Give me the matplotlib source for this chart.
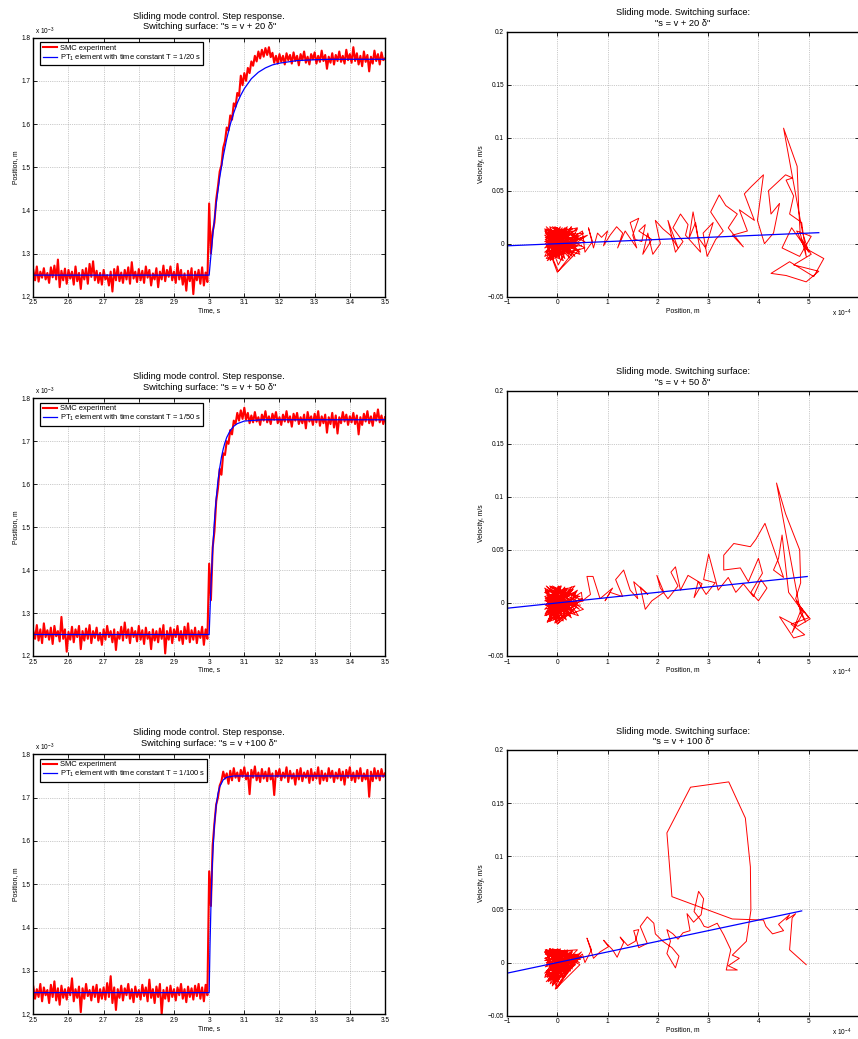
import numpy as np
import matplotlib
matplotlib.use("Agg")
import matplotlib.pyplot as plt
from matplotlib.ticker import FuncFormatter

plt.rcParams['font.family'] = ['Liberation Sans', 'DejaVu Sans']
plt.rcParams['mathtext.fontset'] = 'custom'
plt.rcParams['mathtext.rm'] = 'Liberation Sans'
plt.rcParams['mathtext.it'] = 'Liberation Sans:italic'
plt.rcParams['mathtext.default'] = 'regular'

# ---------------------------------------------------------------- step data
# measured position in micrometres, sampled every 5 ms from 2.5 s to 3.5 s
time_s = np.linspace(2.5, 3.5, 201)

smc_20_um = [
    1262, 1238, 1270, 1235, 1258, 1244, 1266, 1240, 1255, 1232,
    1268, 1245, 1272, 1240, 1286, 1222, 1260, 1238, 1265, 1230,
    1262, 1242, 1258, 1228, 1270, 1236, 1255, 1218, 1262, 1240,
    1266, 1230, 1276, 1246, 1282, 1238, 1260, 1232, 1255, 1228,
    1262, 1240, 1250, 1226, 1258, 1212, 1264, 1238, 1270, 1236,
    1256, 1232, 1262, 1240, 1268, 1230, 1280, 1242, 1258, 1234,
    1264, 1238, 1260, 1232, 1270, 1244, 1262, 1226, 1254, 1240,
    1266, 1222, 1258, 1240, 1272, 1236, 1262, 1246, 1270, 1238,
    1258, 1232, 1276, 1240, 1262, 1228, 1254, 1214, 1260, 1236,
    1266, 1206, 1258, 1238, 1262, 1230, 1268, 1226, 1256, 1234,
    1416, 1300, 1350, 1372, 1425, 1455, 1490, 1505, 1545, 1560,
    1592, 1585, 1620, 1610, 1648, 1640, 1672, 1665, 1712, 1690,
    1718, 1700, 1730, 1718, 1745, 1735, 1758, 1745, 1768, 1752,
    1772, 1756, 1776, 1760, 1778, 1755, 1765, 1742, 1758, 1740,
    1762, 1744, 1758, 1738, 1764, 1748, 1760, 1740, 1766, 1746,
    1758, 1736, 1762, 1748, 1768, 1742, 1756, 1738, 1762, 1750,
    1766, 1740, 1758, 1744, 1770, 1746, 1760, 1728, 1756, 1742,
    1764, 1738, 1760, 1746, 1768, 1744, 1758, 1740, 1772, 1748,
    1762, 1742, 1778, 1746, 1764, 1738, 1758, 1734, 1768, 1744,
    1760, 1722, 1756, 1740, 1770, 1746, 1762, 1738, 1766, 1748,
    1752,
]

smc_50_um = [
    1258, 1240, 1272, 1236, 1262, 1230, 1276, 1244, 1260, 1238,
    1266, 1228, 1270, 1246, 1258, 1234, 1291, 1240, 1262, 1210,
    1256, 1238, 1268, 1232, 1262, 1244, 1270, 1216, 1258, 1236,
    1264, 1240, 1272, 1230, 1258, 1242, 1266, 1236, 1254, 1226,
    1262, 1238, 1270, 1244, 1258, 1232, 1262, 1214, 1256, 1240,
    1268, 1236, 1278, 1242, 1262, 1230, 1266, 1244, 1258, 1234,
    1270, 1238, 1260, 1228, 1266, 1240, 1256, 1216, 1262, 1236,
    1258, 1232, 1264, 1240, 1272, 1206, 1258, 1238, 1266, 1230,
    1262, 1244, 1270, 1236, 1258, 1228, 1268, 1240, 1276, 1232,
    1260, 1238, 1266, 1230, 1258, 1242, 1268, 1226, 1262, 1240,
    1415, 1330, 1452, 1490, 1560, 1590, 1636, 1622, 1672, 1668,
    1700, 1694, 1726, 1716, 1748, 1740, 1766, 1748, 1772, 1752,
    1778, 1750, 1766, 1742, 1760, 1744, 1768, 1746, 1756, 1738,
    1762, 1748, 1770, 1744, 1758, 1740, 1764, 1750, 1768, 1742,
    1756, 1738, 1762, 1746, 1770, 1744, 1758, 1734, 1764, 1748,
    1766, 1740, 1756, 1742, 1762, 1730, 1768, 1746, 1758, 1738,
    1764, 1744, 1770, 1736, 1758, 1742, 1762, 1720, 1756, 1740,
    1766, 1732, 1760, 1718, 1756, 1742, 1768, 1746, 1762, 1738,
    1758, 1744, 1766, 1740, 1760, 1716, 1756, 1738, 1764, 1746,
    1770, 1742, 1758, 1736, 1766, 1748, 1774, 1744, 1760, 1740,
    1756,
]

smc_100_um = [
    1264, 1236, 1258, 1240, 1270, 1230, 1262, 1244, 1256, 1226,
    1268, 1240, 1276, 1232, 1260, 1222, 1266, 1238, 1258, 1234,
    1262, 1244, 1283, 1230, 1258, 1238, 1264, 1205, 1260, 1236,
    1270, 1242, 1256, 1232, 1264, 1240, 1268, 1228, 1258, 1236,
    1262, 1234, 1272, 1240, 1288, 1226, 1262, 1210, 1258, 1238,
    1266, 1232, 1260, 1244, 1270, 1236, 1258, 1228, 1264, 1240,
    1256, 1234, 1268, 1242, 1262, 1230, 1280, 1238, 1258, 1226,
    1264, 1240, 1270, 1200, 1256, 1236, 1262, 1230, 1266, 1240,
    1258, 1232, 1262, 1244, 1270, 1236, 1258, 1228, 1264, 1240,
    1260, 1234, 1266, 1242, 1270, 1236, 1262, 1230, 1268, 1244,
    1530, 1450, 1590, 1640, 1684, 1700, 1728, 1738, 1760, 1744,
    1756, 1732, 1762, 1740, 1768, 1746, 1758, 1738, 1764, 1748,
    1770, 1742, 1758, 1708, 1764, 1746, 1772, 1740, 1758, 1736,
    1766, 1744, 1760, 1738, 1768, 1742, 1756, 1706, 1762, 1748,
    1766, 1740, 1758, 1746, 1770, 1736, 1762, 1744, 1756, 1730,
    1764, 1742, 1768, 1738, 1758, 1746, 1762, 1734, 1766, 1740,
    1758, 1744, 1770, 1732, 1762, 1740, 1756, 1738, 1768, 1746,
    1762, 1736, 1758, 1744, 1766, 1740, 1760, 1730, 1764, 1746,
    1770, 1740, 1758, 1736, 1762, 1744, 1768, 1738, 1756, 1742,
    1764, 1702, 1760, 1738, 1768, 1744, 1762, 1740, 1766, 1748,
    1756,
]

# first-order reference responses (time in s, position in micrometres)
pt1_20_t = [2.5, 3.0, 3.01, 3.02, 3.03, 3.04, 3.05, 3.06, 3.07, 3.08, 3.09,
            3.10, 3.12, 3.14, 3.16, 3.18, 3.20, 3.25, 3.30, 3.35, 3.40, 3.5]
pt1_20_um = [1250, 1250, 1341, 1415, 1476, 1525, 1566, 1599, 1626, 1649, 1667,
             1682, 1705, 1720, 1730, 1737, 1741, 1747, 1749, 1750, 1750, 1750]

pt1_50_t = [2.5, 3.0, 3.005, 3.01, 3.015, 3.02, 3.025, 3.03, 3.035, 3.04,
            3.045, 3.05, 3.06, 3.07, 3.08, 3.10, 3.15, 3.5]
pt1_50_um = [1250, 1250, 1361, 1447, 1514, 1566, 1607, 1638, 1663, 1682,
             1697, 1709, 1725, 1735, 1741, 1747, 1750, 1750]

pt1_100_t = [2.5, 3.0, 3.0025, 3.005, 3.0075, 3.01, 3.015, 3.02, 3.025, 3.03,
             3.04, 3.05, 3.07, 3.5]
pt1_100_um = [1250, 1250, 1361, 1447, 1514, 1566, 1638, 1682, 1709, 1725,
              1741, 1747, 1750, 1750]

# ---------------------------------------------------------- phase portraits
# (position error in 1e-4 m, velocity in m/s)
traj_20 = [
    (4.86, 0.004), (5.05, -0.010), (4.70, -0.020), (5.20, -0.026), (4.95, -0.036),
    (4.55, -0.030), (4.25, -0.028), (4.62, -0.017), (5.10, -0.031), (5.30, -0.014),
    (4.92, -0.004), (4.76, 0.012), (5.05, 0.007), (4.82, -0.012), (4.47, -0.004),
    (4.66, 0.015), (5.00, -0.008), (4.88, 0.010),
    (4.50, 0.109), (4.77, 0.073), (4.80, 0.034), (4.83, 0.010), (4.95, -0.012),
    (4.86, 0.020), (4.62, 0.028), (4.70, 0.045), (4.55, 0.060), (4.68, 0.062),
    (4.54, 0.065), (4.20, 0.050), (4.25, 0.028), (4.42, 0.038), (4.30, 0.010),
    (4.12, 0.000), (3.98, 0.022), (4.10, 0.065), (3.86, 0.054), (3.72, 0.047),
    (3.92, 0.022), (3.62, 0.032), (3.78, 0.012), (3.48, 0.008), (3.70, -0.003),
    (3.40, 0.015), (3.58, 0.028), (3.35, 0.036), (3.22, 0.046), (3.05, 0.030),
    (3.30, 0.012), (3.15, 0.004), (2.98, -0.012), (2.90, 0.010), (3.10, 0.020),
    (2.95, -0.004), (2.80, 0.006), (2.75, 0.020), (2.62, 0.005), (2.70, 0.030),
    (2.85, -0.008), (2.55, 0.008), (2.60, 0.018), (2.45, 0.028), (2.30, 0.015),
    (2.50, 0.002), (2.35, -0.008), (2.20, 0.022), (2.40, -0.004), (2.25, 0.008),
    (2.10, 0.014), (1.95, 0.022), (2.05, 0.000), (1.90, -0.010), (1.80, 0.010),
    (1.70, -0.010), (1.88, 0.004), (1.62, 0.012), (1.75, 0.018), (1.68, 0.002),
    (1.55, 0.004), (1.45, 0.020), (1.62, 0.024), (1.50, 0.008), (1.58, -0.004),
    (1.35, 0.012), (1.20, -0.004), (1.30, 0.010), (1.18, 0.016), (1.05, 0.008),
    (0.92, -0.002), (1.00, 0.012), (0.88, 0.006), (0.80, 0.010), (0.72, -0.004),
    (0.62, 0.015), (0.70, 0.002), (0.55, -0.008),
    (0.50, 0.012), (-0.20, -0.010), (0.40, 0.015), (-0.25, 0.008), (0.30, -0.012),
    (-0.15, 0.014), (0.55, -0.004), (-0.22, -0.014), (0.20, 0.016), (-0.24, 0.000),
    (0.45, -0.010), (0.00, 0.015), (-0.20, -0.006), (0.60, 0.008), (-0.10, -0.015),
    (0.10, 0.013), (-0.25, 0.012), (0.35, -0.006), (0.00, -0.027), (-0.18, -0.004),
    (0.25, 0.010), (-0.23, 0.004), (0.15, -0.014), (-0.05, 0.016), (0.48, 0.004),
    (-0.20, 0.010), (0.05, -0.013), (-0.12, 0.012), (0.30, 0.014), (-0.25, -0.008),
    (0.40, -0.002), (-0.08, -0.012), (0.12, 0.006), (-0.22, 0.014), (0.20, -0.008),
    (0.45, -0.005), (0.02, -0.026), (-0.20, -0.002), (0.10, 0.015), (-0.15, -0.012),
    (0.52, 0.010), (-0.24, 0.006), (0.18, -0.006), (-0.06, 0.010), (0.05, -0.004),
    (-0.24, 0.012), (0.05, -0.014), (-0.20, 0.002), (0.30, 0.012), (-0.10, -0.012),
    (0.42, 0.008), (-0.25, -0.004), (0.15, 0.015), (-0.18, -0.014), (0.25, -0.004),
    (-0.22, 0.016), (0.35, -0.012), (0.00, 0.012), (-0.25, -0.012), (0.50, 0.006),
    (-0.05, -0.008), (0.20, 0.014), (-0.24, 0.004), (0.10, -0.010), (-0.15, 0.016),
    (0.38, 0.002), (-0.20, -0.016), (0.28, 0.016), (-0.02, -0.004), (-0.25, 0.014),
    (0.45, -0.008), (0.08, 0.010), (-0.16, -0.010), (0.22, 0.004), (-0.10, 0.016),
    (0.55, 0.002), (-0.22, -0.008), (0.12, -0.016), (-0.08, 0.006), (0.32, -0.002),
    (-0.24, 0.010), (0.18, 0.012), (-0.12, -0.004), (0.40, 0.014), (0.02, -0.020),
    (-0.20, 0.008), (0.26, -0.014), (-0.04, 0.012), (0.15, 0.000), (-0.25, 0.002),
    (0.36, 0.010), (-0.14, -0.016), (0.06, 0.016), (-0.22, -0.002), (0.48, -0.002),
]

traj_50 = [
    (4.80, -0.002), (5.00, -0.014), (4.65, -0.020), (4.92, -0.030), (4.70, -0.033),
    (4.42, -0.013), (4.78, -0.022), (5.03, -0.015), (4.86, -0.005), (4.67, -0.028),
    (4.90, -0.008), (4.76, 0.002), (4.94, -0.018), (4.84, -0.010),
    (4.36, 0.113), (4.54, 0.084), (4.82, 0.050), (4.84, 0.019), (4.74, 0.004),
    (4.88, -0.008), (4.60, 0.010), (4.47, 0.064), (4.40, 0.042), (4.30, 0.031),
    (4.50, 0.024), (4.13, 0.075), (3.95, 0.060), (3.84, 0.053), (3.51, 0.056),
    (3.31, 0.045), (3.31, 0.031), (3.64, 0.033), (3.80, 0.020), (4.00, 0.042),
    (4.08, 0.028), (3.85, 0.010), (4.00, 0.002), (4.17, 0.014), (4.05, 0.022),
    (3.90, 0.006), (3.70, 0.018), (3.55, 0.010), (3.40, 0.024), (3.20, 0.012),
    (3.01, 0.046), (2.91, 0.022), (3.14, 0.019), (2.96, 0.008), (2.80, 0.020),
    (2.72, 0.005), (2.88, 0.018), (2.60, 0.026), (2.45, 0.012), (2.35, 0.034),
    (2.26, 0.029), (2.40, 0.016), (2.20, 0.004), (2.05, 0.014), (1.98, 0.026),
    (2.12, 0.010), (1.88, 0.002), (1.75, -0.006), (1.65, 0.015), (1.80, 0.008),
    (1.52, 0.020), (1.60, 0.004), (1.45, 0.012), (1.32, 0.031), (1.16, 0.022),
    (1.30, 0.006), (1.05, 0.010), (0.95, 0.002), (1.10, 0.014), (0.85, 0.004),
    (0.71, 0.025), (0.59, 0.025), (0.66, 0.008), (0.50, 0.002),
    (0.48, 0.010), (-0.22, -0.012), (0.35, 0.016), (-0.25, 0.006), (0.28, -0.014),
    (-0.12, 0.015), (0.52, -0.006), (-0.20, -0.018), (0.15, 0.014), (-0.24, -0.002),
    (0.42, -0.012), (0.02, 0.016), (-0.18, -0.008), (0.50, 0.004), (-0.05, -0.019),
    (0.12, 0.012), (-0.25, 0.010), (0.30, -0.008), (0.00, -0.020), (-0.15, -0.002),
    (0.22, 0.010), (-0.22, 0.002), (0.18, -0.016), (-0.06, 0.014), (0.45, 0.006),
    (-0.20, 0.012), (0.06, -0.015), (-0.10, 0.010), (0.32, 0.013), (-0.24, -0.010),
    (0.40, 0.000), (-0.08, -0.016), (0.10, 0.004), (-0.20, 0.015), (0.25, -0.010),
    (0.38, -0.004), (0.00, -0.017), (-0.18, 0.004), (0.08, 0.016), (-0.12, -0.013),
    (0.05, -0.002),
    (-0.24, 0.012), (0.05, -0.016), (-0.20, 0.002), (0.30, 0.012), (-0.10, -0.014),
    (0.42, 0.006), (-0.25, -0.006), (0.15, 0.015), (-0.18, -0.016), (0.25, -0.004),
    (-0.22, 0.016), (0.35, -0.010), (0.00, 0.012), (-0.25, -0.012), (0.48, 0.004),
    (-0.05, -0.010), (0.20, 0.014), (-0.24, 0.004), (0.10, -0.012), (-0.15, 0.016),
    (0.38, 0.002), (-0.20, -0.018), (0.28, 0.015), (-0.02, -0.004), (-0.25, 0.014),
    (0.44, -0.006), (0.08, 0.010), (-0.16, -0.012), (0.22, 0.004), (-0.10, 0.016),
    (0.52, 0.002), (-0.22, -0.008), (0.12, -0.017), (-0.08, 0.006), (0.32, -0.002),
    (-0.24, 0.010), (0.18, 0.012), (-0.12, -0.004), (0.40, 0.012), (0.02, -0.019),
    (-0.20, 0.008), (0.26, -0.012), (-0.04, 0.012), (0.15, 0.000), (-0.25, 0.002),
    (0.36, 0.010), (-0.14, -0.017), (0.06, 0.016), (-0.22, -0.002), (0.46, -0.002),
]

traj_100 = [
    (4.95, -0.002), (4.62, 0.012), (4.67, 0.042), (4.74, 0.046), (4.55, 0.040),
    (4.62, 0.045), (4.40, 0.036), (4.50, 0.030), (4.28, 0.027), (4.15, 0.034),
    (4.10, 0.040), (3.48, 0.041), (2.28, 0.062), (2.18, 0.122), (2.65, 0.165),
    (3.41, 0.170), (3.74, 0.136), (3.84, 0.090), (3.85, 0.049), (3.76, 0.020),
    (3.48, 0.007), (3.62, 0.004), (3.40, -0.003), (3.58, -0.007), (3.36, -0.007),
    (3.45, 0.012), (3.31, 0.026), (3.18, 0.037), (3.00, 0.033), (2.92, 0.034),
    (2.85, 0.040), (2.72, 0.048), (2.81, 0.067), (2.91, 0.060), (2.86, 0.045),
    (2.71, 0.038), (2.58, 0.046), (2.64, 0.030), (2.50, 0.028), (2.40, 0.022),
    (2.30, 0.027), (2.18, 0.031), (2.25, 0.020), (2.18, 0.0085), (2.35, -0.005),
    (2.42, 0.006), (2.28, 0.014), (2.10, 0.020), (1.95, 0.027), (1.92, 0.037),
    (1.79, 0.043), (1.65, 0.034), (1.79, 0.018), (1.62, 0.014), (1.52, 0.030),
    (1.62, 0.031), (1.55, 0.020), (1.40, 0.016), (1.25, 0.024), (1.32, 0.019),
    (1.19, 0.005), (1.10, 0.012), (0.92, 0.021), (1.02, 0.015), (0.85, 0.010),
    (0.72, 0.004), (0.59, 0.023), (0.68, 0.012), (0.55, 0.000),
    (0.50, 0.008), (-0.22, -0.018), (0.40, 0.012), (-0.25, 0.010), (0.30, -0.006),
    (-0.15, 0.013), (0.45, -0.002), (-0.04, -0.025), (0.20, 0.012), (-0.24, -0.004),
    (0.38, 0.004), (0.00, 0.013), (-0.20, -0.014), (0.48, 0.010), (-0.10, -0.022),
    (0.12, 0.011), (-0.25, 0.004), (0.32, 0.000), (0.00, -0.024), (-0.18, -0.008),
    (0.25, 0.008), (-0.22, 0.012), (0.15, -0.010), (-0.06, 0.012), (0.42, 0.006),
    (-0.20, 0.008), (0.05, -0.016), (-0.12, 0.010), (0.30, 0.011), (-0.24, -0.012),
    (0.36, -0.002), (-0.08, -0.020), (0.10, 0.002), (-0.22, 0.000), (0.22, -0.006),
    (-0.02, -0.024), (0.40, 0.002), (-0.16, 0.012), (0.08, -0.012), (-0.12, -0.016),
    (0.05, 0.004),
    (-0.24, 0.012), (0.05, -0.020), (-0.20, 0.002), (0.30, 0.010), (-0.10, -0.020),
    (0.42, 0.006), (-0.25, -0.010), (0.15, 0.012), (-0.18, -0.016), (0.25, -0.004),
    (-0.22, 0.012), (0.35, -0.002), (0.00, 0.012), (-0.25, -0.014), (0.48, 0.006),
    (-0.05, -0.018), (0.20, 0.011), (-0.24, 0.004), (0.10, -0.012), (-0.15, 0.013),
    (0.38, 0.002), (-0.18, -0.018), (0.28, 0.010), (-0.02, -0.006), (-0.25, 0.010),
    (0.44, 0.000), (0.08, 0.010), (-0.16, -0.014), (0.22, 0.004), (-0.10, 0.013),
    (0.50, 0.005), (-0.22, -0.008), (0.12, -0.014), (-0.08, 0.006), (0.32, -0.002),
    (-0.24, 0.008), (0.18, 0.010), (-0.12, -0.004), (0.40, 0.008), (0.00, -0.023),
    (-0.20, 0.008), (0.26, -0.008), (-0.04, 0.012), (0.15, 0.000), (-0.25, 0.002),
    (0.36, 0.008), (-0.14, -0.020), (0.06, 0.013), (-0.22, -0.002), (0.46, 0.003),
]

# switching lines s = 0 (end points)
surf_20 = [(-1.0, -0.0020), (5.2, 0.0104)]
surf_50 = [(-1.0, -0.0050), (4.97, 0.0249)]
surf_100 = [(-1.0, -0.0100), (4.86, 0.0486)]

gains = ["20", "50", "100"]
step_series = [smc_20_um, smc_50_um, smc_100_um]
pt1_series = [(pt1_20_t, pt1_20_um), (pt1_50_t, pt1_50_um), (pt1_100_t, pt1_100_um)]
left_titles = [
    'Sliding mode control. Step response.\nSwitching surface: "s = v + 20 \u03b4"',
    'Sliding mode control. Step response.\nSwitching surface: "s = v + 50 \u03b4"',
    'Sliding mode control. Step response.\nSwitching surface: "s = v +100 \u03b4"',
]
right_titles = [
    'Sliding mode. Switching surface:\n"s = v + 20 \u03b4"',
    'Sliding mode. Switching surface:\n"s = v + 50 \u03b4"',
    'Sliding mode. Switching surface:\n"s = v + 100 \u03b4"',
]
trajectories = [traj_20, traj_50, traj_100]
surfaces = [surf_20, surf_50, surf_100]

# --------------------------------------------------------------- layout
W, H = 858, 1039
left_boxes = [(33.3, 37.7, 385.0, 296.7), (33.3, 398.3, 385.0, 656.0), (33.3, 754.3, 385.0, 1014.3)]
right_boxes = [(507.0, 31.7, 859.0, 296.7), (507.0, 390.7, 859.0, 656.0), (507.0, 750.0, 859.0, 1015.7)]

TICK_FS = 4.7
LABEL_FS = 4.9
TITLE_FS = 6.7

fmt = FuncFormatter(lambda v, p: ('%g' % round(v, 6)).replace('-', '\u2212'))


def px_axes(fig, box):
    x0, y0, x1, y1 = box
    return fig.add_axes([x0 / W, 1 - y1 / H, (x1 - x0) / W, (y1 - y0) / H])


def matlab_style(ax):
    ax.tick_params(direction='in', top=True, right=True, length=3, width=0.6,
                   labelsize=TICK_FS, pad=2, colors='black')
    ax.grid(True, linestyle=':', color='#9a9a9a', linewidth=0.5)
    ax.set_axisbelow(True)
    for s in ax.spines.values():
        s.set_linewidth(1.0)
    ax.xaxis.set_major_formatter(fmt)
    ax.yaxis.set_major_formatter(fmt)


fig = plt.figure(figsize=(W / 100, H / 100), dpi=100)

for i in range(3):
    # step response
    ax = px_axes(fig, left_boxes[i])
    matlab_style(ax)
    ax.plot(time_s, np.array(step_series[i]) / 1000.0, color='red', lw=1.5,
            label='SMC experiment')
    pt_t, pt_um = pt1_series[i]
    ax.plot(pt_t, np.array(pt_um) / 1000.0, color='blue', lw=0.9,
            label='PT$_1$ element with time constant T = 1/%s s' % gains[i])
    ax.set_xlim(2.5, 3.5)
    ax.set_ylim(1.2, 1.8)
    ax.set_xticks([2.5, 2.6, 2.7, 2.8, 2.9, 3.0, 3.1, 3.2, 3.3, 3.4, 3.5])
    ax.set_yticks([1.2, 1.3, 1.4, 1.5, 1.6, 1.7, 1.8])
    ax.set_title(left_titles[i], fontsize=TITLE_FS, pad=6, linespacing=1.25)
    ax.set_xlabel('Time, s', fontsize=LABEL_FS, labelpad=0.5)
    ax.set_ylabel('Position, m', fontsize=LABEL_FS, labelpad=2)
    ax.text(0.005, 1.004, 'x 10$^{-3}$', transform=ax.transAxes,
            fontsize=TICK_FS, va='bottom', ha='left')
    leg = ax.legend(loc='upper left', bbox_to_anchor=(0.02, 0.983), borderaxespad=0,
                    fontsize=5.4, frameon=True, fancybox=False, edgecolor='black',
                    framealpha=1, handlelength=1.9, handletextpad=0.4,
                    borderpad=0.3, labelspacing=0.12)
    leg.get_frame().set_linewidth(0.9)

    # phase portrait
    ax = px_axes(fig, right_boxes[i])
    matlab_style(ax)
    pts = np.array(trajectories[i])
    ax.plot(pts[:, 0], pts[:, 1], color='red', lw=0.7)
    line = np.array(surfaces[i])
    ax.plot(line[:, 0], line[:, 1], color='blue', lw=0.9)
    ax.set_xlim(-1, 6)
    ax.set_ylim(-0.05, 0.2)
    ax.set_xticks([-1, 0, 1, 2, 3, 4, 5, 6])
    ax.set_yticks([-0.05, 0, 0.05, 0.1, 0.15, 0.2])
    ax.set_title(right_titles[i], fontsize=TITLE_FS, pad=4, linespacing=1.25)
    ax.set_xlabel('Position, m', fontsize=LABEL_FS, labelpad=0.5)
    ax.set_ylabel('Velocity, m/s', fontsize=LABEL_FS, labelpad=2)
    ax.text(0.922, -0.062, 'x 10$^{-4}$', transform=ax.transAxes,
            fontsize=TICK_FS, va='center', ha='left')

fig.savefig('out.png', dpi=100)
